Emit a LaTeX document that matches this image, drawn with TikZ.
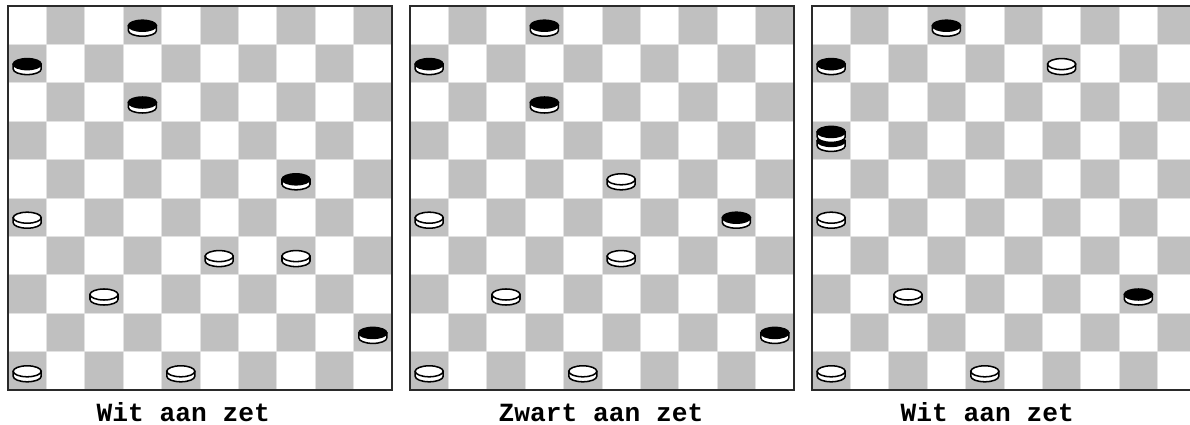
\documentclass[tikz,border=0pt]{standalone}
\usepackage{fontspec}
\newfontfamily\zetfont{Liberation Mono}
\usetikzlibrary{calc}
\definecolor{veld}{HTML}{C0C0C0}
\definecolor{naad}{HTML}{E2E2E2}
\definecolor{rand}{HTML}{2A2A2A}
\tikzset{
  % bord
  donker/.style={fill=veld},
  naadlijn/.style={draw=naad,line width=0.6pt},
  bordrand/.style={draw=rand,line width=1.6pt},
  % schijven
  zijkant/.style={fill=white,draw=black,line width=1.3pt},
  wit/.style={fill=white,draw=black,line width=1.3pt},
  zwart/.style={fill=black,draw=black,line width=1.3pt},
  onderschrift/.style={font=\zetfont\bfseries\fontsize{22.4}{26}\selectfont,
                       inner sep=0pt,anchor=base west},
}
% schijf: middelpunt veld x, y, kleur
\newcommand\schijf[3]{%
  \filldraw[zijkant] (#1-14,#2+0.5) -- (#1-14,#2+5.5)
    arc[start angle=180,end angle=0,x radius=14,y radius=5.5] -- (#1+14,#2+0.5) -- cycle;
  \filldraw[#3] (#1,#2+0.5) ellipse[x radius=14,y radius=5.5];
}
% bord van 10x10 velden, linksboven in (0,0)
\newcommand\bord{%
  \foreach \r in {0,...,9}
    \foreach \c in {1,3,...,9}{
      \pgfmathtruncatemacro\k{\c-mod(\r,2)}
      \fill[donker] (38.4*\k,38.4*\r) rectangle ++(38.4,38.4);
    }
  \foreach \i in {1,...,9}{
    \draw[naadlijn] (38.4*\i,0) -- ++(0,384);
    \draw[naadlijn] (0,38.4*\i) -- ++(384,0);
  }
  \draw[bordrand] (0,0) rectangle (384,384);
}
\newcommand\stukken[1]{%
  \foreach \c/\r/\kl in {#1}{
    \pgfmathsetmacro\px{38.4*(\c+0.5)}
    \pgfmathsetmacro\py{38.4*(\r+0.5)}
    \schijf{\px}{\py}{\kl}
  }
}

\begin{document}
\begin{tikzpicture}[x=0.03cm,y=-0.03cm]
\useasboundingbox (0,0) rectangle (1190,425);
\fill[white] (0,0) rectangle (1190,425);
\begin{scope}[shift={(8,6)}]
  \bord
  \stukken{3/0/zwart,0/1/zwart,3/2/zwart,7/4/zwart,0/5/wit,5/6/wit,7/6/wit,
           2/7/wit,9/8/zwart,0/9/wit,4/9/wit}
  \node[onderschrift] (zet1) at (88.5,415) {Wit aan zet};
\end{scope}
\begin{scope}[shift={(410,6)}]
  \bord
  \stukken{3/0/zwart,0/1/zwart,3/2/zwart,5/4/wit,0/5/wit,8/5/zwart,5/6/wit,
           2/7/wit,9/8/zwart,0/9/wit,4/9/wit}
  \node[onderschrift] (zet2) at (88.5,415) {Zwart aan zet};
\end{scope}
\begin{scope}[shift={(812,6)}]
  \bord
  \stukken{3/0/zwart,0/1/zwart,6/1/wit,0/3/zwart,0/5/wit,2/7/wit,8/7/zwart,
           0/9/wit,4/9/wit}
  % dam: tweede schijf erop
  \schijf{19.2}{125.4}{zwart}
  \node[onderschrift] (zet3) at (88.5,415) {Wit aan zet};
\end{scope}
\end{tikzpicture}
\end{document}
